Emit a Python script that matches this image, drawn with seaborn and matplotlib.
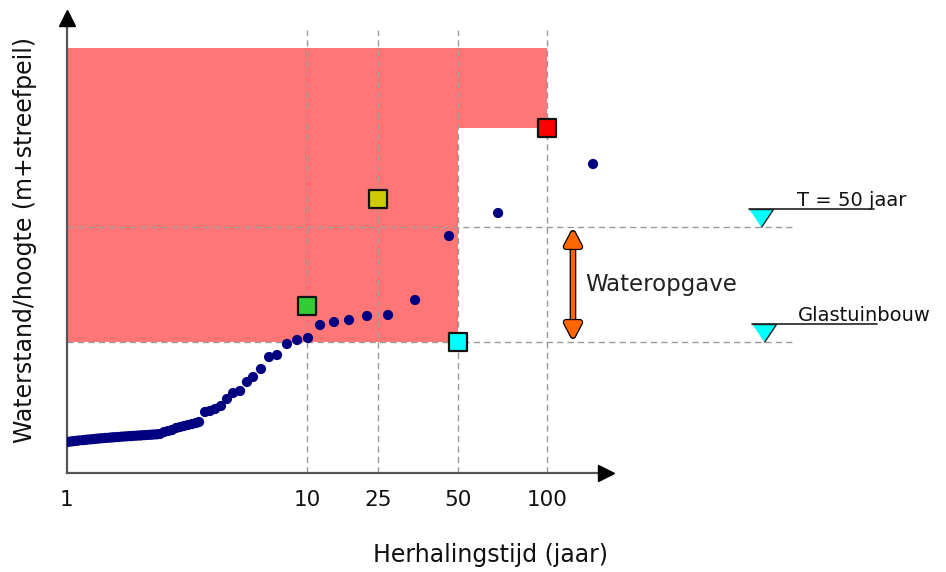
import numpy as np
import pandas as pd
import matplotlib
matplotlib.use("Agg")
import matplotlib.pyplot as plt
import seaborn as sns
from matplotlib import transforms
from matplotlib.patches import Polygon
from matplotlib import patheffects as pe

# --- data -----------------------------------------------------------------
# annual maxima: return period (years) and water level (m + streefpeil)
return_period = [
    1.00, 1.03, 1.06, 1.09, 1.12, 1.16, 1.19, 1.22, 1.26, 1.30, 1.33, 1.37,
    1.41, 1.45, 1.50, 1.54, 1.58, 1.63, 1.68, 1.73, 1.78, 1.83, 1.88, 1.94,
    2.00, 2.05, 2.11, 2.18, 2.24, 2.30, 2.37, 2.44,
    2.54, 2.64, 2.74, 2.85, 2.96, 3.07, 3.19, 3.32, 3.45, 3.55,
    3.76, 3.94, 4.14, 4.38, 4.64, 4.92, 5.26, 5.62, 5.96, 6.43, 6.95, 7.50,
    8.25, 9.09, 10.13, 11.83, 14.17, 17.20, 21.69, 27.27, 34.45, 46.25,
    68.30, 143.1,
]
water_level = [
    0.310, 0.314, 0.318, 0.321, 0.325, 0.328, 0.331, 0.334, 0.337, 0.340,
    0.343, 0.346, 0.348, 0.351, 0.353, 0.356, 0.358, 0.360, 0.363, 0.365,
    0.367, 0.369, 0.371, 0.373, 0.375, 0.377, 0.379, 0.381, 0.383, 0.385,
    0.387, 0.390,
    0.41, 0.42, 0.43, 0.45, 0.46, 0.47, 0.48, 0.49, 0.50, 0.51,
    0.61, 0.62, 0.64, 0.67, 0.74, 0.80, 0.82, 0.91, 0.96, 1.04, 1.16, 1.18,
    1.29, 1.33, 1.35, 1.48, 1.51, 1.53, 1.57, 1.58, 1.73, 2.37,
    2.60, 3.09,
]

# land-use norms: return period and allowed level
norm_T = [10, 25, 50, 100]
norm_level = [1.67, 2.74, 1.31, 3.45]
norm_colors = ["#33CC33", "#CCCC00", "#00FFFF", "#FF0000"]

level_T50 = 2.46          # water level at T = 50 jaar
level_glas = 1.31         # ground level glastuinbouw
region_top = 4.25         # top of the shaded region
region_step_T = 50        # return period where the shaded region steps up

xtick_values = [1, 10, 25, 50, 100]
xtick_labels = ["1", "10", "25", "50", "100"]

# --- custom return-period axis -------------------------------------------
knot_logT = np.log10([1, 10, 25, 50, 100])
knot_u = np.array([0.0, 1.0, 1.2958, 1.6292, 2.0])
slope_hi = (knot_u[-1] - knot_u[-2]) / (knot_logT[-1] - knot_logT[-2])


def forward(T):
    lt = np.log10(np.clip(np.asarray(T, dtype=float), 1e-9, None))
    u = np.interp(lt, knot_logT, knot_u)
    u = np.where(lt > knot_logT[-1], knot_u[-1] + (lt - knot_logT[-1]) * slope_hi, u)
    u = np.where(lt < 0, lt, u)
    return u


def inverse(u):
    u = np.asarray(u, dtype=float)
    lt = np.interp(u, knot_u, knot_logT)
    lt = np.where(u > knot_u[-1], knot_logT[-1] + (u - knot_u[-1]) / slope_hi, lt)
    lt = np.where(u < 0, u, lt)
    return 10 ** lt


sns.set_theme(style="white")
plt.rcParams["font.family"] = ["DejaVu Sans"]

W, H = 946, 572
fig = plt.figure(figsize=(W / 100, H / 100), dpi=100)
ax = fig.add_axes([67 / W, (H - 473) / H, 539 / W, 455 / H])
ax.set_xscale("function", functions=(forward, inverse))
ax.set_xlim(1, 158.3)
ax.set_ylim(0, 4.55)

# shaded (red) region
poly = Polygon(
    [(1, level_glas), (1, region_top), (100, region_top), (100, norm_level[3]),
     (region_step_T, norm_level[3]), (region_step_T, level_glas)],
    closed=True, facecolor="#FF7676", edgecolor="none", zorder=1,
)
ax.add_patch(poly)

dash = (0, (4.5, 3))
grey = "#9A9A9A"
# vertical guides at the norm return periods
ax.vlines(norm_T, 0, 4.43, colors=grey, linestyles=dash, linewidth=1.0, zorder=2)

# horizontal guides, reaching out to the level symbols on the right
bt = transforms.blended_transform_factory(ax.transAxes, ax.transData)
for lvl in (level_T50, level_glas):
    ax.plot([0, 1.3506], [lvl, lvl], color=grey, ls=dash, lw=1.0,
            transform=bt, clip_on=False, zorder=2)

# measured annual maxima
df = pd.DataFrame({"T": return_period, "level": water_level})
sns.scatterplot(data=df, x="T", y="level", color="#000080", s=54,
                edgecolor="none", ax=ax, zorder=4)

# norm squares
dn = pd.DataFrame({"T": norm_T, "level": norm_level, "norm": ["a", "b", "c", "d"]})
sns.scatterplot(data=dn, x="T", y="level", hue="norm", palette=norm_colors,
                marker="s", s=175, edgecolor="#111111", linewidth=1.6,
                legend=False, ax=ax, zorder=5, clip_on=False)

# double arrow: wateropgave
arrow_T = 122.4
ax.annotate("", xy=(arrow_T, level_T50), xytext=(arrow_T, level_glas),
            arrowprops=dict(arrowstyle="<|-|>,head_width=0.5,head_length=0.95",
                            mutation_scale=10, color="#FF6600", lw=3.0,
                            shrinkA=1.5, shrinkB=1.5,
                            path_effects=[pe.withStroke(linewidth=4.8, foreground="black")]),
            zorder=6)
ax.text(10 ** (2 + (0.158 / slope_hi)), (level_T50 + level_glas) / 2, "Wateropgave",
        fontsize=16.5, color="#222222", va="center", ha="left", zorder=6)

# water level symbols with labels
tri = [(-12, 18), (12, 18), (0, 0)]
for frac, lvl, label, tfrac in [(1.2876, level_T50, "T = 50 jaar", 1.3544),
                                 (1.2931, level_glas, "Glastuinbouw", 1.3562)]:
    ax.plot([frac], [lvl], marker=tri, markersize=25.9, markerfacecolor="#00FFFF",
            markeredgecolor="#222222", markeredgewidth=1.0, transform=bt,
            clip_on=False, zorder=6)
    off = transforms.ScaledTranslation(0, 18 / 100, fig.dpi_scale_trans)
    ax.plot([frac - 0.0223, frac + 0.2096], [lvl, lvl], color="#222222", lw=1.2,
            transform=bt + off, clip_on=False, zorder=6)
    off_t = transforms.ScaledTranslation(0, 21 / 100, fig.dpi_scale_trans)
    ax.text(tfrac, lvl, label, fontsize=14, color="#111111", ha="left",
            va="baseline", transform=bt + off_t, clip_on=False)

# axes: only left and bottom, with arrow heads
for side in ("top", "right"):
    ax.spines[side].set_visible(False)
for side in ("left", "bottom"):
    ax.spines[side].set_color("#555555")
    ax.spines[side].set_linewidth(1.6)
ax.plot([0], [1], marker="^", ms=11.5, color="black", transform=ax.transAxes,
        clip_on=False, zorder=7)
ax.plot([1], [0], marker=">", ms=11.5, color="black", transform=ax.transAxes,
        clip_on=False, zorder=7)

ax.set_xticks(xtick_values)
ax.set_xticklabels(xtick_labels)
ax.minorticks_off()
ax.set_yticks([])
ax.tick_params(axis="x", length=0, pad=12, labelsize=15.5, labelcolor="#111111")
ax.set_xlabel("")
ax.set_ylabel("")
ax.grid(False)

fig.text(490 / W, 1 - 555 / H, "Herhalingstijd (jaar)", fontsize=17,
         color="#111111", ha="center", va="center")
fig.text(25 / W, 1 - 240 / H, "Waterstand/hoogte (m+streefpeil)", fontsize=17,
         color="#111111", ha="center", va="center", rotation=90)

fig.savefig("out.png", dpi=100)
